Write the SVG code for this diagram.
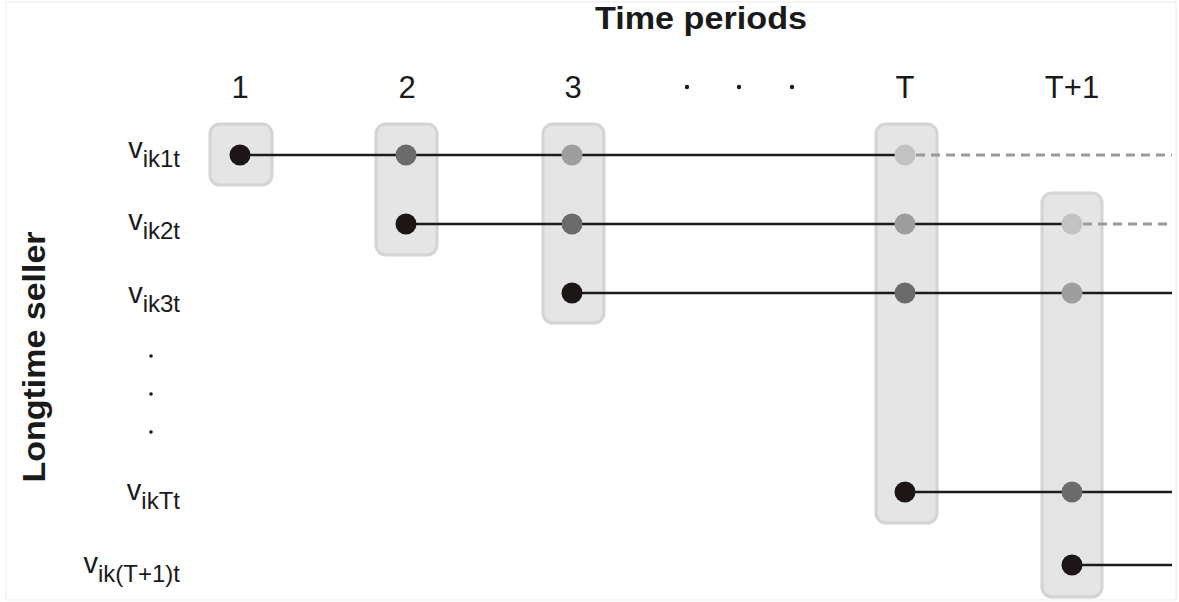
<svg xmlns="http://www.w3.org/2000/svg" width="1179" height="602" viewBox="0 0 1179 602">
<style>
.box{fill:#e5e5e5;stroke:#d4d4d4;stroke-width:3}
.ln{stroke:#1c1a1a;stroke-width:2.5;fill:none}
.dl{stroke:#9a9a9a;stroke-width:3;stroke-dasharray:9 6;fill:none}
.t{font-family:"Liberation Sans",Arial,sans-serif;fill:#1a1a1a}
.b{font-weight:bold}
.d0{fill:#1c1616}
.d1{fill:#6b6b6b}
.d2{fill:#9e9e9e}
.d3{fill:#c2c2c2}
.sd{fill:#1a1a1a}
</style>
<rect x="6" y="2" width="1170" height="598" fill="#fff" stroke="#ececec" stroke-width="1"/>
<g id="title">
<text class="t b" x="701" y="29" font-size="32" text-anchor="middle" textLength="212" lengthAdjust="spacingAndGlyphs">Time periods</text>
<text class="t b" transform="translate(45,357) rotate(-90)" font-size="32" text-anchor="middle" textLength="251" lengthAdjust="spacingAndGlyphs">Longtime seller</text>
</g>
<g id="period-labels" class="t" font-size="31" text-anchor="middle">
<text x="240" y="98">1</text>
<text x="407" y="98">2</text>
<text x="573" y="98">3</text>
<text x="905" y="98">T</text>
<text x="1072" y="98">T+1</text>
</g>
<g id="ellipsis">
<circle class="sd" cx="687" cy="87" r="2.2"/><circle class="sd" cx="739" cy="87" r="2.2"/><circle class="sd" cx="792" cy="87" r="2.2"/>
<circle class="sd" cx="151" cy="356" r="1.8"/><circle class="sd" cx="151" cy="394" r="1.8"/><circle class="sd" cx="151" cy="432" r="1.8"/>
<circle class="sd" cx="905" cy="356" r="2"/><circle class="sd" cx="905" cy="394" r="2"/><circle class="sd" cx="905" cy="432" r="2"/>
<circle class="sd" cx="1072" cy="356" r="2"/><circle class="sd" cx="1072" cy="394" r="2"/><circle class="sd" cx="1072" cy="432" r="2"/>
</g>
<g id="row-labels" class="t" text-anchor="end">
<text x="180" y="158"><tspan font-size="29">v</tspan><tspan font-size="24" dy="9">ik1t</tspan></text>
<text x="180" y="230"><tspan font-size="29">v</tspan><tspan font-size="24" dy="9">ik2t</tspan></text>
<text x="180" y="303"><tspan font-size="29">v</tspan><tspan font-size="24" dy="9">ik3t</tspan></text>
<text x="180" y="500"><tspan font-size="29">v</tspan><tspan font-size="24" dy="9">ikTt</tspan></text>
<text x="180" y="573"><tspan font-size="29">v</tspan><tspan font-size="24" dy="9">ik(T+1)t</tspan></text>
</g>
<g id="period-boxes">
<rect id="box-1" class="box" x="210" y="124" width="62" height="61" rx="10"/>
<rect id="box-2" class="box" x="376" y="124" width="61" height="131" rx="10"/>
<rect id="box-3" class="box" x="543" y="124" width="61" height="199" rx="10"/>
<rect id="box-T" class="box" x="876" y="124" width="61" height="399" rx="10"/>
<rect id="box-T1" class="box" x="1042" y="193" width="60" height="404" rx="10"/>
</g>
<g id="connectors">
<line class="ln" x1="240" y1="155" x2="905" y2="155"/>
<line class="dl" x1="916" y1="155" x2="1172" y2="155"/>
<line class="ln" x1="406" y1="224" x2="1072" y2="224"/>
<line class="dl" x1="1083" y1="224" x2="1172" y2="224"/>
<line class="ln" x1="572" y1="293" x2="1172" y2="293"/>
<line class="ln" x1="905" y1="492" x2="1172" y2="492"/>
<line class="ln" x1="1072" y1="565" x2="1172" y2="565"/>
</g>
<g id="nodes">
<circle class="d0" cx="240" cy="155" r="10.5"/>
<circle class="d1" cx="406" cy="155" r="10.5"/>
<circle class="d2" cx="572" cy="155" r="10.5"/>
<circle class="d3" cx="905" cy="155" r="10.5"/>
<circle class="d0" cx="406" cy="224" r="10.5"/>
<circle class="d1" cx="572" cy="224" r="10.5"/>
<circle class="d2" cx="905" cy="224" r="10.5"/>
<circle class="d3" cx="1072" cy="224" r="10.5"/>
<circle class="d0" cx="572" cy="293" r="10.5"/>
<circle class="d1" cx="905" cy="293" r="10.5"/>
<circle class="d2" cx="1072" cy="293" r="10.5"/>
<circle class="d0" cx="905" cy="492" r="10.5"/>
<circle class="d1" cx="1072" cy="492" r="10.5"/>
<circle class="d0" cx="1072" cy="565" r="10.5"/>
</g>
</svg>
